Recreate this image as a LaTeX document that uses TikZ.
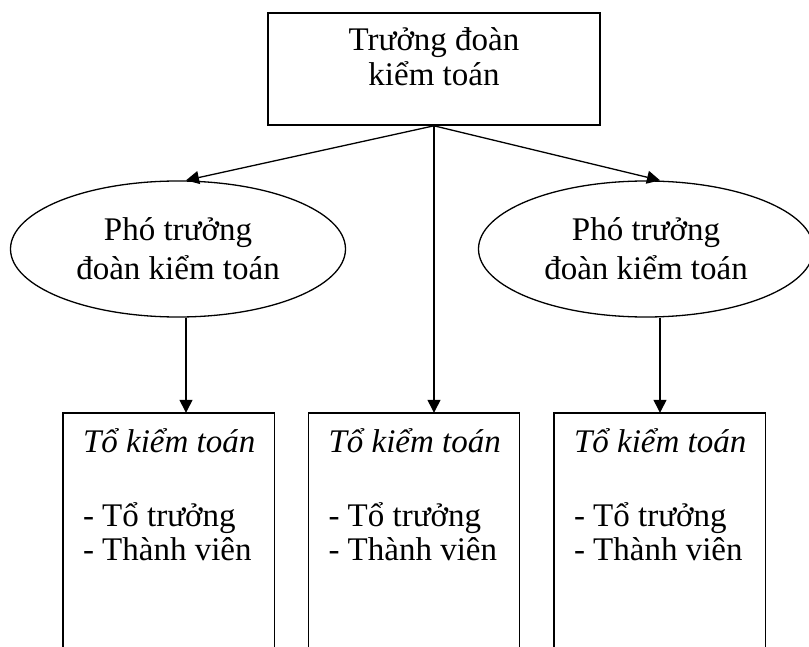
\documentclass[tikz,border=0pt]{standalone}
\usepackage{fontspec}
\setmainfont{Liberation Serif}
\usetikzlibrary{shapes.geometric, arrows.meta}

\begin{document}
\begin{tikzpicture}[x=1pt, y=-1pt,
    font=\fontsize{33}{35}\selectfont,
    truongbox/.style={draw, line width=1.6pt, minimum width=332pt, minimum height=112pt, inner sep=0pt},
    phoell/.style={ellipse, draw, line width=1.3pt, minimum width=335pt, minimum height=136pt,
      inner sep=0pt, align=center, font=\fontsize{33}{39}\selectfont},
    tobox/.style={draw=none, minimum width=211pt, minimum height=236pt, inner sep=0pt},
    totext/.style={anchor=base west, inner sep=0pt},
    arr/.style={line width=1.3pt, -{Triangle[width=13pt,length=13pt]}}]
  %so do doan kiem toan
  \useasboundingbox (0,0) rectangle (809,647);
  \node[truongbox] (tr) at (434,69) {};
  \node[align=center, inner sep=0pt] (trtext) at (434,57) {Trưởng đoàn\\kiểm toán};
  \node[phoell] (p1) at (178,249) {Phó trưởng\\đoàn kiểm toán};
  \node[phoell] (p2) at (646,249) {Phó trưởng\\đoàn kiểm toán};
  \coordinate (a1) at ([xshift=8pt]p1.south);
  \coordinate (a2) at ([xshift=14pt]p2.south);
  \foreach \n/\x in {1/168.5, 2/414, 3/659.5}{
    \node[tobox] (t\n) at (\x,531) {};
    \draw[line width=1.4pt] (t\n.south west) -- (t\n.north west) -- (t\n.north east) -- (t\n.south east);
    \node[totext] (tk\n) at ([shift={(20pt,-40pt)}]t\n.north west) {\textit{Tổ kiểm toán}};
    \node[totext] (tt\n) at ([shift={(20pt,-114pt)}]t\n.north west) {- Tổ trưởng};
    \node[totext] (tv\n) at ([shift={(20pt,-148pt)}]t\n.north west) {- Thành viên};
  }
  \draw[arr] (tr.south) -- ([xshift=8pt]p1.north);
  \draw[arr] (tr.south) -- ([xshift=14pt]p2.north);
  \draw[arr] (tr.south) -- (tr.south |- t2.north);
  \draw[arr] (a1) -- (a1 |- t1.north);
  \draw[arr] (a2) -- (a2 |- t3.north);
\end{tikzpicture}
\end{document}
